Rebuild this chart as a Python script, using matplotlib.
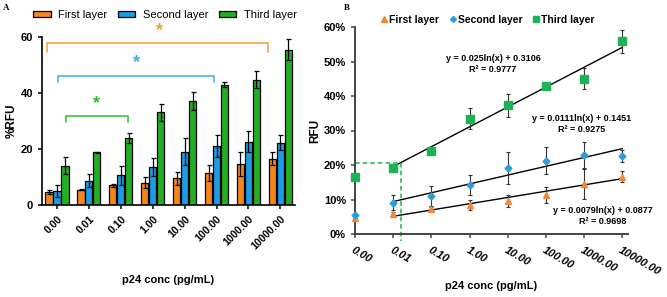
import numpy as np
import matplotlib.pyplot as plt
from matplotlib.patches import Patch
from matplotlib.lines import Line2D

plt.rcParams['font.family'] = ['Liberation Sans', 'DejaVu Sans']

conc = ["0.00", "0.01", "0.10", "1.00", "10.00", "100.00", "1000.00", "10000.00"]
conc_val = [0, 0.01, 0.1, 1, 10, 100, 1000, 10000]

# panel A (%RFU)
first_a = [4.8, 5.5, 7.0, 8.0, 9.5, 11.4, 14.5, 16.6]
first_a_err = [0.7, 0.3, 0.5, 2.0, 2.2, 2.9, 4.3, 2.3]
second_a = [5.0, 8.7, 10.6, 13.5, 19.0, 21.1, 22.6, 22.3]
second_a_err = [2.3, 2.4, 3.5, 3.2, 4.8, 3.9, 3.8, 2.6]
third_a = [14.0, 18.8, 24.0, 33.1, 37.1, 43.0, 44.8, 55.5]
third_a_err = [3.0, 0.3, 1.8, 3.1, 3.1, 0.8, 3.0, 3.7]

# panel B (% of RFU)
first_b = [4.5, 5.8, 7.2, 8.4, 9.6, 11.3, 14.4, 16.6]
first_b_err = [0, 0.6, 0.6, 1.4, 1.7, 2.4, 4.3, 1.6]
second_b = [5.5, 9.1, 11.0, 14.2, 19.2, 21.3, 22.8, 22.6]
second_b_err = [0, 2.1, 2.8, 2.9, 4.6, 3.8, 3.8, 1.8]
third_b = [16.6, 19.0, 24.2, 33.4, 37.3, 43.0, 45.0, 55.9]
third_b_err = [0, 0, 0.8, 3.0, 3.3, 0.4, 3.1, 3.3]

# log fits: slope, intercept
fits = [(0.0079, 0.0877), (0.0111, 0.1451), (0.025, 0.3106)]

c_or = "#F5851F"
c_bl = "#1E9BE2"
c_gr = "#22B022"
c_or_b = "#F0883A"
c_bl_b = "#2F9CD8"
c_gr_b = "#1DB256"

fig = plt.figure(figsize=(6.67, 2.97), dpi=100)

# ---------- panel A ----------
ax = fig.add_axes([42/667, 1-205/297, (295-42)/667, (205-37)/297])
x = np.arange(len(conc))
w = 0.25
for off, vals, errs, col in [(-w, first_a, first_a_err, c_or),
                             (0, second_a, second_a_err, c_bl),
                             (w, third_a, third_a_err, c_gr)]:
    ax.bar(x + off, vals, w * 0.9, color=col, edgecolor="black", linewidth=0.9, zorder=2)
    ax.errorbar(x + off, vals, yerr=errs, fmt="none", ecolor="black", elinewidth=0.9,
                capsize=1.8, capthick=0.9, zorder=3)
ax.set_xlim(-0.47, 7.46)
ax.set_ylim(0, 60)
ax.spines[["top", "right"]].set_visible(False)
ax.spines[["left", "bottom"]].set_linewidth(1.2)
ax.set_yticks([0, 20, 40, 60])
ax.set_xticks(x)
ax.set_xticklabels(conc, rotation=45, ha="right", rotation_mode="anchor",
                   fontsize=7.5, fontweight="bold")
ax.tick_params(axis="y", labelsize=8)
for t in ax.get_yticklabels():
    t.set_fontweight("bold")
ax.tick_params(width=1.1, length=3)
ax.set_ylabel("%RFU", fontsize=8.5, fontweight="bold", labelpad=2)
ax.set_xlabel("p24 conc (pg/mL)", fontsize=8, fontweight="bold", labelpad=17)

# significance brackets
for x0, x1, yb, yt, xs, ys, col in [(-0.31, 6.6, 54.6, 57.9, 3.2, 59.3, "#F5A030"),
                                    (0.03, 4.92, 44.0, 46.1, 2.5, 47.8, "#3AAEE8"),
                                    (0.28, 2.24, 29.6, 31.7, 1.25, 33.2, "#2DC02D")]:
    ax.plot([x0, x0, x1, x1], [yb, yt, yt, yb], color=col, lw=1.1, clip_on=False)
    ax.text(xs, ys, "*", color=col, fontsize=13, fontweight="bold",
            ha="center", va="bottom", clip_on=False)

leg_handles = [Patch(facecolor=c, edgecolor="black", linewidth=0.9) for c in (c_or, c_bl, c_gr)]
fig.legend(leg_handles, ["First layer", "Second layer", "Third layer"], ncol=3,
           loc="center", bbox_to_anchor=(165/667, 1-15/297), frameon=False, fontsize=8,
           handlelength=1.6, handleheight=0.55, columnspacing=0.9, handletextpad=0.7)
fig.text(3/667, 1-8/297, "A", fontsize=6.5, fontweight="bold", family="Liberation Serif",
         va="center")

# ---------- panel B ----------
bx = fig.add_axes([355/667, 1-234/297, (628-355)/667, (234-27)/297])
xb = np.arange(len(conc))
for vals, errs, col, mk, ms in [(first_b, first_b_err, c_or_b, "^", 4.5),
                                (second_b, second_b_err, c_bl_b, "D", 3.5),
                                (third_b, third_b_err, c_gr_b, "s", 5.5)]:
    bx.errorbar(xb, vals, yerr=errs, fmt=mk, color=col, ms=ms, mec=col, ecolor="#333333",
                elinewidth=0.8, capsize=1.5, capthick=0.8, zorder=3, clip_on=False)
# log trendlines (x from 0.01 to 10000)
cx = np.array(conc_val[1:])
for a, b in fits:
    bx.plot(xb[1:], (a * np.log(cx) + b) * 100, color="black", lw=1.0, zorder=2)
bx.plot([0, 1.2], [20.7, 20.7], color=c_gr_b, ls="--", lw=1.1, dashes=(3, 2), clip_on=False)
bx.plot([1.2, 1.2], [20.7, -2.0], color=c_gr_b, ls="--", lw=1.1, dashes=(3, 2), clip_on=False)
bx.set_xlim(0, 7.15)
bx.set_ylim(0, 60)
bx.spines[["top", "right"]].set_visible(False)
bx.spines[["left", "bottom"]].set_linewidth(1.4)
bx.spines[["left", "bottom"]].set_color("#444444")
bx.set_yticks([0, 10, 20, 30, 40, 50, 60])
bx.set_yticklabels([f"{v}%" for v in range(0, 70, 10)], fontsize=8, fontweight="bold")
bx.set_xticks(xb)
bx.set_xticklabels(conc, rotation=-30, ha="left", va="top", rotation_mode="anchor",
                   fontsize=8, fontweight="bold", fontstyle="italic")
bx.tick_params(width=1.1, length=3, color="#444444")
bx.tick_params(axis="x", pad=5)
bx.set_ylabel("RFU", fontsize=8.5, fontweight="bold", labelpad=2)
bx.set_xlabel("p24 conc (pg/mL)", fontsize=8, fontweight="bold", labelpad=3)

fig.text(493/667, 1-64/297, "y = 0.025ln(x) + 0.3106\nR² = 0.9777", fontsize=6.5,
         fontweight="bold", ha="center", va="center", linespacing=1.2)
fig.text(582/667, 1-124/297, "y = 0.0111ln(x) + 0.1451\nR² = 0.9275",
         fontsize=6.5, fontweight="bold", ha="center", va="center", linespacing=1.2)
fig.text(603/667, 1-216/297, "y = 0.0079ln(x) + 0.0877\nR² = 0.9698",
         fontsize=6.5, fontweight="bold", ha="center", va="center", linespacing=1.2)

legb = [Line2D([], [], ls="none", marker=m, color=c, ms=s) for m, c, s in
        [("^", c_or_b, 4), ("D", c_bl_b, 3), ("s", c_gr_b, 5)]]
fig.legend(legb, ["First layer", "Second layer", "Third layer"], ncol=3, loc="center",
           bbox_to_anchor=(488/667, 1-20/297), frameon=False,
           prop={"size": 7.5, "weight": "bold"}, handlelength=0.6, handletextpad=0.2,
           columnspacing=1.0)
fig.text(344/667, 1-8/297, "B", fontsize=6.5, fontweight="bold", family="Liberation Serif",
         va="center")

fig.savefig("out.png", dpi=100)
